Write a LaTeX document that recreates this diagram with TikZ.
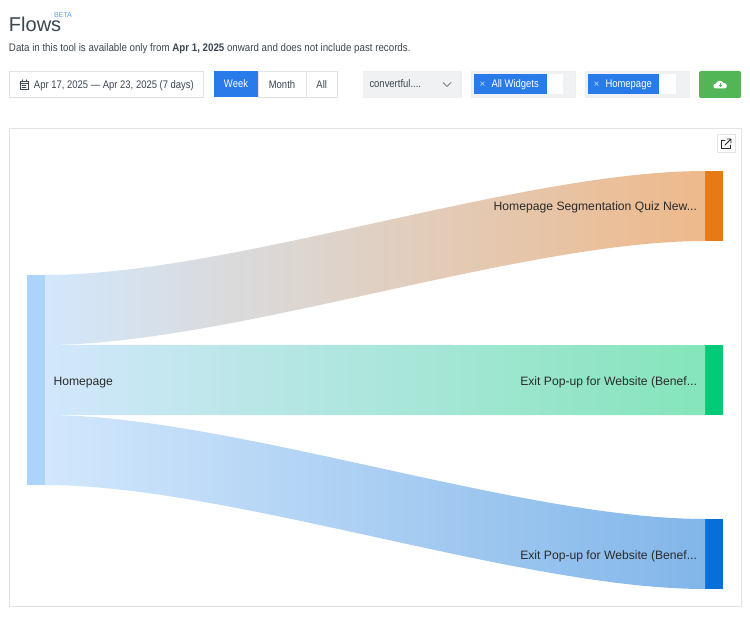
\documentclass[tikz,border=0pt]{standalone}
\usepackage{fontspec}
\setmainfont{Liberation Sans}
\newfontfamily\uifont[FakeStretch=0.86]{Liberation Sans}
\newfontfamily\notefont[FakeStretch=0.885]{Liberation Sans}
\usetikzlibrary{calc}
\definecolor{ink}{HTML}{3A4653}
\definecolor{label}{HTML}{2B2B2B}
\definecolor{edge}{HTML}{E2E3E5}
\definecolor{panel}{HTML}{F0F1F3}
\definecolor{blue}{HTML}{2A7BEA}
\definecolor{green}{HTML}{52B656}
\definecolor{hnode}{HTML}{ABD3FB}
\definecolor{qnode}{HTML}{E67A17}
\definecolor{enode}{HTML}{00CC77}
\definecolor{bnode}{HTML}{0670D8}
\definecolor{startc}{HTML}{D2E7FC}
\definecolor{qend}{HTML}{EEB98A}
\definecolor{eend}{HTML}{85E5BB}
\definecolor{bend}{HTML}{82B6E9}
\tikzset{
  x=1pt,y=-1pt,
  txt/.style={inner sep=0pt,outer sep=0pt,anchor=base west,text=ink},
  ui/.style={font=\uifont\fontsize{11}{12}\selectfont},
  box/.style={inner sep=0pt,outer sep=0pt,anchor=north west,ui,text=ink},
  flownode/.style={inner sep=0pt,outer sep=0pt,anchor=north west,minimum width=18pt,minimum height=70pt},
  flowlabel/.style={inner sep=0pt,outer sep=0pt,anchor=base east,text=label,font=\fontsize{12.15}{14}\selectfont},
  icon/.style={draw=ink,line width=0.8pt,line cap=round,line join=round}
}
% #1 start top, #2 end top, #3 end bottom, #4 start bottom, #5 end colour
\newcommand{\flowband}[5]{%
  \begin{scope}
    \coordinate (ta) at ($(#1)!0.28!(#2)$);
    \coordinate (tb) at ($(#1)!0.72!(#2)$);
    \coordinate (ba) at ($(#4)!0.28!(#3)$);
    \coordinate (bb) at ($(#4)!0.72!(#3)$);
    \clip (#1) .. controls (ta |- #1) and (tb |- #2) .. (#2)
      -- (#3) .. controls (bb |- #3) and (ba |- #4) .. (#4) -- cycle;
    \shade[left color=startc,right color=#5] (45,128) rectangle (705,606);
  \end{scope}}
\begin{document}
\begin{tikzpicture}
\useasboundingbox (0,0) rectangle (750,618);
\fill[white] (0,0) rectangle (750,618);
% header
\node[txt,font=\fontsize{20}{22}\selectfont] (title) at (9,31.5) {Flows};
\node[txt,font=\fontsize{7}{8}\selectfont,text=blue!75] (beta) at (54,18) {BETA};
\node[txt,font=\notefont\fontsize{11}{12}\selectfont] (note) at (9,52) {Data in this tool is available only from \textbf{Apr 1, 2025} onward and does not include past records.};
% date picker
\node[box,draw=edge,minimum width=194pt,minimum height=25.5pt] (date) at (9.5,71.5) {};
\node[txt,ui] (datetext) at (34,88.5) {Apr 17, 2025 — Apr 23, 2025 (7 days)};
\draw[icon] (20,81) rectangle (28,89);
\draw[icon] (20,83.5) -- (28,83.5) (22,79.8) -- (22,81) (26,79.8) -- (26,81);
\draw[icon,line width=0.6pt] (22,85.5) -- (26,85.5) (22,87.3) -- (26,87.3);
% period
\node[box,draw=edge,minimum width=48pt,minimum height=25.5pt,text=ink] (month) at (258,71.5) {Month};
\node[box,draw=edge,minimum width=31.5pt,minimum height=25.5pt,text=ink] (all) at (306,71.5) {All};
\node[box,fill=blue,minimum width=44pt,minimum height=26pt,text=white] (week) at (214,71) {Week};
% selects
\node[box,fill=panel,draw=edge!60,minimum width=97.5pt,minimum height=25.5pt] (site) at (363.3,71.3) {};
\node[txt,ui] (sitetext) at (369.5,88) {convertful....};
\draw[icon,line width=0.7pt] (443,82.5) -- (447,86.5) -- (451,82.5);
\node[box,fill=panel,draw=edge!60,minimum width=103.5pt,minimum height=25.5pt] (widgets) at (471.3,71.3) {};
\node[box,fill=white,minimum width=16pt,minimum height=20pt] (wspace) at (547,74) {};
\node[box,fill=blue,minimum width=73pt,minimum height=20pt] (wchip) at (474,74) {};
\node[txt,font=\fontsize{10}{10}\selectfont,text=white!70!blue] (wx) at (479.5,88) {×};
\node[txt,ui,text=white] (wtext) at (491.5,88) {All Widgets};
\node[box,fill=panel,draw=edge!60,minimum width=103.5pt,minimum height=25.5pt] (pages) at (585.3,71.3) {};
\node[box,fill=white,minimum width=17pt,minimum height=20pt] (pspace) at (659,74) {};
\node[box,fill=blue,minimum width=71pt,minimum height=20pt] (pchip) at (588,74) {};
\node[txt,font=\fontsize{10}{10}\selectfont,text=white!70!blue] (px) at (593.5,88) {×};
\node[txt,ui,text=white] (ptext) at (605.5,88) {Homepage};
% export button
\node[box,fill=green,rounded corners=1.5pt,minimum width=42pt,minimum height=27pt] (export) at (699,71) {};
\fill[white] (716,88.5) .. controls (712.5,88.5) and (712.5,83.5) .. (716,83.5)
  .. controls (717,80) and (722.5,80) .. (723.5,83)
  .. controls (727.5,82.5) and (728,88.5) .. (724.5,88.5) -- cycle;
\draw[green,line width=1pt] (720.2,83.5) -- (720.2,87.3) (718.5,85.5) -- (722,85.5);
% chart frame
\node[box,draw=edge,line width=1pt,minimum width=731.5pt,minimum height=478pt] (frame) at (9.5,128) {};
\node[box,draw=edge,fill=white,minimum width=18pt,minimum height=18pt] (popout) at (717.5,134.5) {};
\draw[icon,draw=label,line width=0.9pt] (725,140) -- (721.5,140) -- (721.5,148.5) -- (730,148.5) -- (730,145);
\draw[icon,draw=label,line width=0.9pt] (725,145) -- (731,139) (727,139) -- (731,139) -- (731,143);
% sankey nodes
\node[flownode,fill=hnode,minimum height=210pt] (home) at (27,275) {};
\node[flownode,fill=qnode] (quiz) at (705,171) {};
\node[flownode,fill=enode] (exita) at (705,345) {};
\node[flownode,fill=bnode] (exitb) at (705,519) {};
\coordinate (h1) at (home.north east);
\coordinate (h2) at ($(home.north east)!0.3333!(home.south east)$);
\coordinate (h3) at ($(home.north east)!0.6667!(home.south east)$);
\coordinate (h4) at (home.south east);
% sankey bands
\flowband{h1}{quiz.north west}{quiz.south west}{h2}{qend}
\flowband{h2}{exita.north west}{exita.south west}{h3}{eend}
\flowband{h3}{exitb.north west}{exitb.south west}{h4}{bend}
% sankey labels
\node[txt,text=label,font=\fontsize{12.15}{14}\selectfont] (homelabel) at (53.5,385) {Homepage};
\node[flowlabel] (quizlabel) at (697,210.5) {Homepage Segmentation Quiz New...};
\node[flowlabel] (exitalabel) at (697,385) {Exit Pop-up for Website (Benef...};
\node[flowlabel] (exitblabel) at (697,559) {Exit Pop-up for Website (Benef...};
\end{tikzpicture}
\end{document}
